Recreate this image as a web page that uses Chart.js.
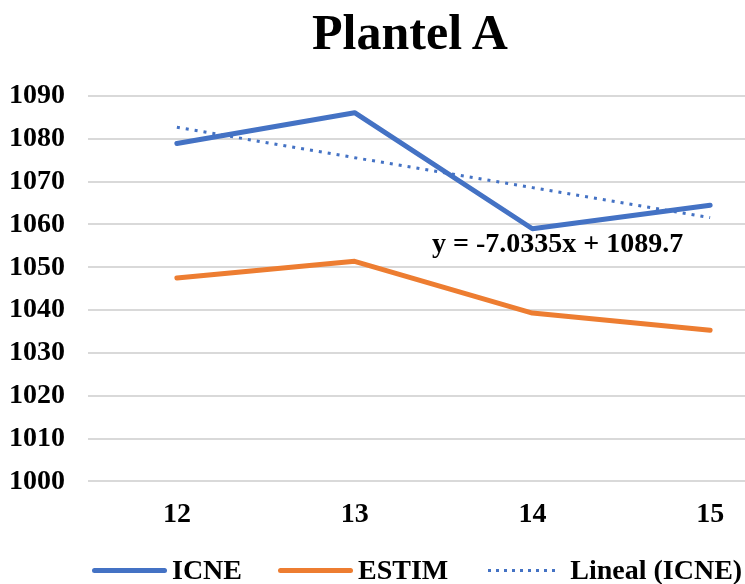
<!DOCTYPE html>
<html>
<head>
<meta charset="utf-8">
<script src="https://cdn.jsdelivr.net/npm/chart.js@4"></script>
<style>
    html, body { margin: 0; padding: 0; background: #fff; overflow: hidden; }
    #wrap { position: absolute; left: 0; top: 0; width: 820px; height: 584px; }
    .serif { font-family: "Liberation Serif", "Times New Roman", serif; font-weight: bold; color: #000; }
    #titulo { position: absolute; left: 0; top: 2px; width: 820px; text-align: center; font-size: 50px; line-height: 60px; margin: 0; }
    #eq { position: absolute; left: 432px; top: 227px; font-size: 28px; white-space: nowrap; }
    #legend { position: absolute; left: 92px; top: 554px; display: flex; align-items: center; font-size: 28px; white-space: nowrap; line-height: 32px; }
    #legend .item { display: flex; align-items: center; flex: none; }
    #legend .swatch { width: 75px; height: 5px; border-radius: 3px; margin-right: 5px; }
    #legend .dots { width: 67px; height: 3px; margin-right: 15px;
        background: repeating-linear-gradient(to right, #4472C4 0 3px, transparent 3px 8px); }
</style>
</head>
<body>
<div id="wrap"><canvas id="chart"></canvas></div>
<h1 id="titulo" class="serif">Plantel A</h1>
<div id="eq" class="serif">y = -7.0335x + 1089.7</div>
<ul id="legend" class="serif" style="margin:0;padding:0;list-style:none"></ul>

<script>
// datos
const categorias = ['12', '13', '14', '15'];
const icne = [1078.9, 1086.1, 1059.0, 1064.5];
const estim = [1047.5, 1051.4, 1039.3, 1035.3];
const linealIcne = [1082.7, 1075.6, 1068.6, 1061.6];
const yTicks = [1000, 1010, 1020, 1030, 1040, 1050, 1060, 1070, 1080, 1090];

const AZUL = '#4472C4';
const NARANJA = '#ED7D31';
const fuente = (size) => ({ family: '"Liberation Serif", "Times New Roman", serif', size, weight: 'bold' });

new Chart(document.getElementById('chart'), {
    type: 'line',
    data: {
        labels: categorias,
        datasets: [
            {
                label: 'Lineal (ICNE)',
                data: linealIcne,
                borderColor: AZUL,
                borderWidth: 3,
                borderDash: [3, 6],
                borderCapStyle: 'butt',
                pointRadius: 0,
                order: 0,
            },
            {
                label: 'ICNE',
                data: icne,
                borderColor: AZUL,
                borderWidth: 5,
                borderCapStyle: 'round',
                borderJoinStyle: 'round',
                pointRadius: 0,
                order: 1,
            },
            {
                label: 'ESTIM',
                data: estim,
                borderColor: NARANJA,
                borderWidth: 5,
                borderCapStyle: 'round',
                borderJoinStyle: 'round',
                pointRadius: 0,
                order: 2,
            },
        ]
    },
    options: {
        responsive: true,
        maintainAspectRatio: false,
        animation: false,
        layout: { padding: { left: 0, right: 21, top: 96, bottom: 35 } },
        plugins: {
            legend: { display: false },
            tooltip: { enabled: false },
            title: { display: false },
        },
        scales: {
            x: {
                offset: true,
                grid: { display: false, drawTicks: false },
                border: { display: false },
                ticks: { color: '#000', font: fuente(28), padding: 17 },
            },
            y: {
                min: 1000,
                max: 1090,
                afterBuildTicks: (scale) => { scale.ticks = yTicks.map(v => ({ value: v })); },
                afterFit: (scale) => { scale.width = 88; },
                grid: { color: '#d9d9d9', lineWidth: 2, drawTicks: false },
                border: { display: false },
                ticks: { color: '#000', font: fuente(28), padding: 23, callback: v => String(v) },
            }
        }
    }
});

// Leyenda
const items = [
    { label: 'ICNE', color: AZUL, dotted: false, gap: 36 },
    { label: 'ESTIM', color: NARANJA, dotted: false, gap: 40 },
    { label: 'Lineal (ICNE)', color: AZUL, dotted: true, gap: 0 },
];
const legend = document.getElementById('legend');
items.forEach(it => {
    legend.innerHTML += `
    <li class="item" style="margin-right:${it.gap}px">
        <div class="${it.dotted ? 'dots' : 'swatch'}" style="${it.dotted ? '' : 'background:' + it.color}"></div>
        <span>${it.label}</span>
    </li>`;
});
</script>
</body>
</html>
